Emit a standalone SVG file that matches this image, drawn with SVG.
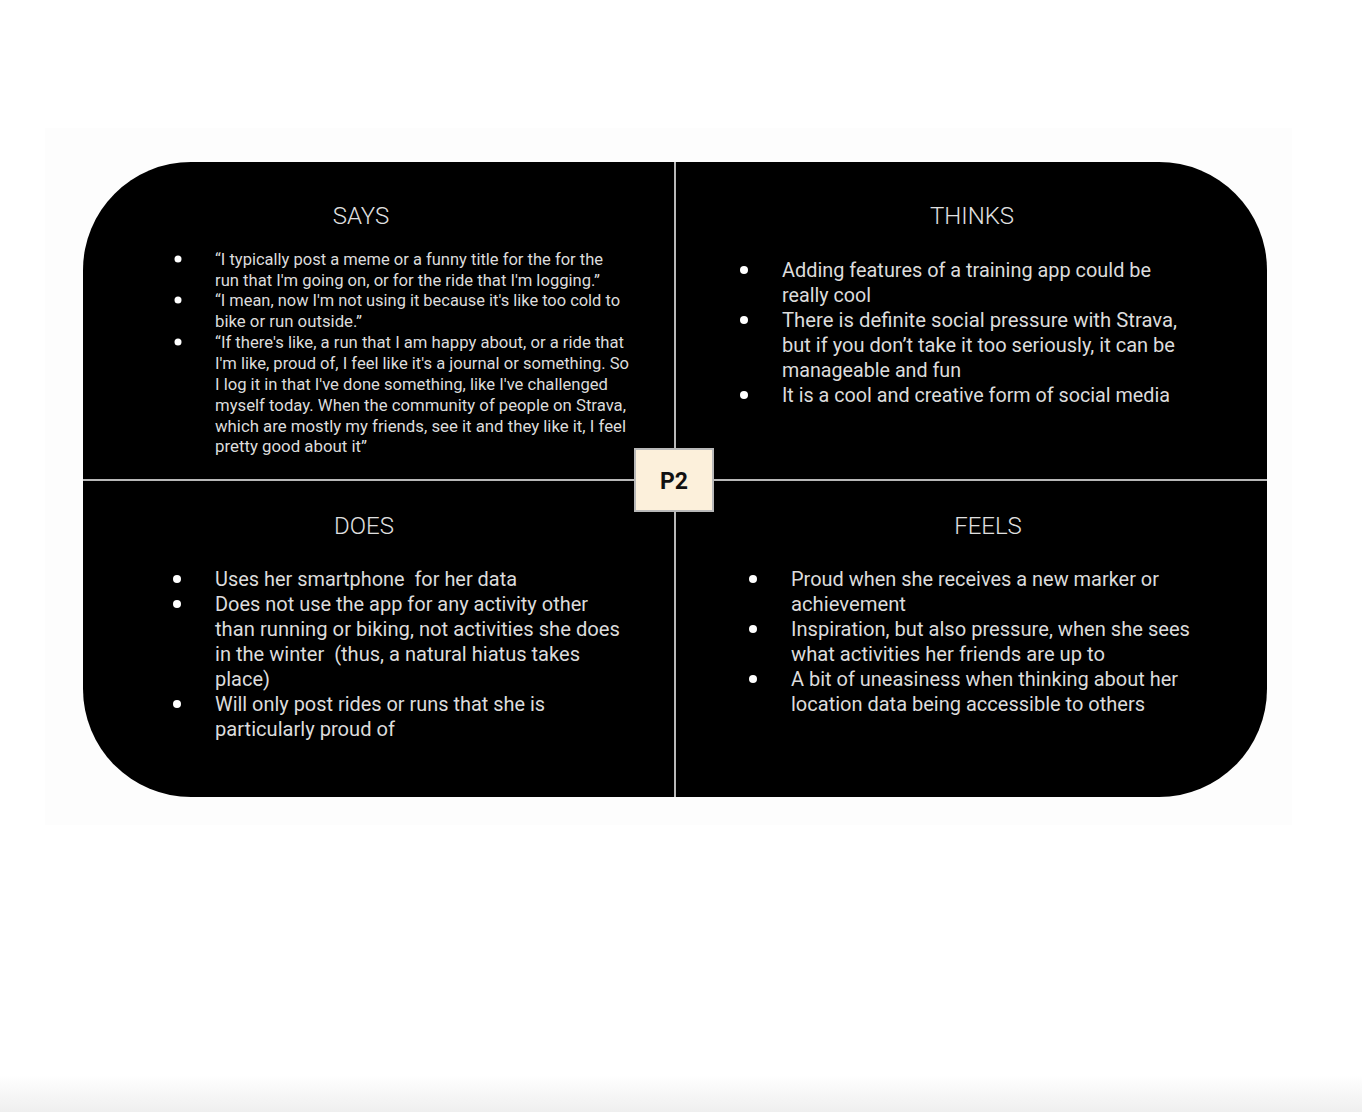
<svg xmlns="http://www.w3.org/2000/svg" width="1362" height="1112" viewBox="0 0 1362 1112">
<defs>
<linearGradient id="bot" x1="0" y1="0" x2="0" y2="1">
<stop offset="0" stop-color="#ffffff"/>
<stop offset="1" stop-color="#efefef"/>
</linearGradient>
<style>
.t{font-family:Roboto,"Liberation Sans",sans-serif;fill:#dcdcdc;font-weight:400}
.s{font-size:16px}
.m{font-size:20px}
.h{font-size:24px;font-weight:300;text-anchor:middle;fill:#e0e0e0}
.b{fill:#ffffff}
.div{stroke:#b8b8b8;stroke-width:2;fill:none}
</style>
</defs>
<rect width="1362" height="1112" fill="#ffffff"/>
<rect x="45" y="128" width="1247" height="697" fill="#fdfdfd"/>
<rect x="0" y="1075" width="1362" height="37" fill="url(#bot)"/>
<g id="board">
<rect x="83" y="162" width="1184" height="635" rx="108" ry="108" fill="#000000"/>
</g>
<g id="connectors">
<line class="div" x1="675" y1="162" x2="675" y2="797"/>
<line class="div" x1="83" y1="480" x2="1267" y2="480"/>
</g>
<g id="says">
<text class="t h" x="361" y="224">SAYS</text>
<circle class="b" cx="178" cy="259" r="3.5"/>
<circle class="b" cx="178" cy="300" r="3.5"/>
<circle class="b" cx="178" cy="342" r="3.5"/>
<text class="t s" x="215" y="265" textLength="388" lengthAdjust="spacingAndGlyphs">“I typically post a meme or a funny title for the for the</text>
<text class="t s" x="215" y="286" textLength="385" lengthAdjust="spacingAndGlyphs">run that I'm going on, or for the ride that I'm logging.”</text>
<text class="t s" x="215" y="306" textLength="405" lengthAdjust="spacingAndGlyphs">“I mean, now I'm not using it because it's like too cold to</text>
<text class="t s" x="215" y="327" textLength="147" lengthAdjust="spacingAndGlyphs">bike or run outside.”</text>
<text class="t s" x="215" y="348" textLength="409" lengthAdjust="spacingAndGlyphs">“If there's like, a run that I am happy about, or a ride that</text>
<text class="t s" x="215" y="369" textLength="414" lengthAdjust="spacingAndGlyphs">I'm like, proud of, I feel like it's a journal or something. So</text>
<text class="t s" x="215" y="390" textLength="393" lengthAdjust="spacingAndGlyphs">I log it in that I've done something, like I've challenged</text>
<text class="t s" x="215" y="411" textLength="411" lengthAdjust="spacingAndGlyphs">myself today. When the community of people on Strava,</text>
<text class="t s" x="215" y="432" textLength="411" lengthAdjust="spacingAndGlyphs">which are mostly my friends, see it and they like it, I feel</text>
<text class="t s" x="215" y="452" textLength="152" lengthAdjust="spacingAndGlyphs">pretty good about it”</text>
</g>
<g id="thinks">
<text class="t h" x="972" y="224">THINKS</text>
<circle class="b" cx="744" cy="270" r="4"/>
<circle class="b" cx="744" cy="320" r="4"/>
<circle class="b" cx="744" cy="395" r="4"/>
<text class="t m" x="782" y="277" textLength="369" lengthAdjust="spacingAndGlyphs">Adding features of a training app could be</text>
<text class="t m" x="782" y="302" textLength="89" lengthAdjust="spacingAndGlyphs">really cool</text>
<text class="t m" x="782" y="327" textLength="395" lengthAdjust="spacingAndGlyphs">There is definite social pressure with Strava,</text>
<text class="t m" x="782" y="352" textLength="393" lengthAdjust="spacingAndGlyphs">but if you don’t take it too seriously, it can be</text>
<text class="t m" x="782" y="377" textLength="179" lengthAdjust="spacingAndGlyphs">manageable and fun</text>
<text class="t m" x="782" y="402" textLength="388" lengthAdjust="spacingAndGlyphs">It is a cool and creative form of social media</text>
</g>
<g id="does">
<text class="t h" x="364" y="534">DOES</text>
<circle class="b" cx="177" cy="579" r="4"/>
<circle class="b" cx="177" cy="604" r="4"/>
<circle class="b" cx="177" cy="704" r="4"/>
<text class="t m" x="215" y="586" textLength="302" lengthAdjust="spacingAndGlyphs">Uses her smartphone&#160; for her data</text>
<text class="t m" x="215" y="611" textLength="373" lengthAdjust="spacingAndGlyphs">Does not use the app for any activity other</text>
<text class="t m" x="215" y="636" textLength="405" lengthAdjust="spacingAndGlyphs">than running or biking, not activities she does</text>
<text class="t m" x="215" y="661" textLength="365" lengthAdjust="spacingAndGlyphs">in the winter&#160; (thus, a natural hiatus takes</text>
<text class="t m" x="215" y="686" textLength="55" lengthAdjust="spacingAndGlyphs">place)</text>
<text class="t m" x="215" y="711" textLength="330" lengthAdjust="spacingAndGlyphs">Will only post rides or runs that she is</text>
<text class="t m" x="215" y="736" textLength="180" lengthAdjust="spacingAndGlyphs">particularly proud of</text>
</g>
<g id="feels">
<text class="t h" x="988" y="534">FEELS</text>
<circle class="b" cx="753" cy="579" r="4"/>
<circle class="b" cx="753" cy="629" r="4"/>
<circle class="b" cx="753" cy="679" r="4"/>
<text class="t m" x="791" y="586" textLength="368" lengthAdjust="spacingAndGlyphs">Proud when she receives a new marker or</text>
<text class="t m" x="791" y="611" textLength="115" lengthAdjust="spacingAndGlyphs">achievement</text>
<text class="t m" x="791" y="636" textLength="399" lengthAdjust="spacingAndGlyphs">Inspiration, but also pressure, when she sees</text>
<text class="t m" x="791" y="661" textLength="314" lengthAdjust="spacingAndGlyphs">what activities her friends are up to</text>
<text class="t m" x="791" y="686" textLength="387" lengthAdjust="spacingAndGlyphs">A bit of uneasiness when thinking about her</text>
<text class="t m" x="791" y="711" textLength="354" lengthAdjust="spacingAndGlyphs">location data being accessible to others</text>
</g>
<g id="p2">
<rect x="635" y="449" width="78" height="62" fill="#fcf0db" stroke="#b8b8b8" stroke-width="2"/>
<text x="674" y="489" text-anchor="middle" font-family="Roboto,'Liberation Sans',sans-serif" font-size="23" font-weight="700" fill="#111111">P2</text>
</g>
</svg>
